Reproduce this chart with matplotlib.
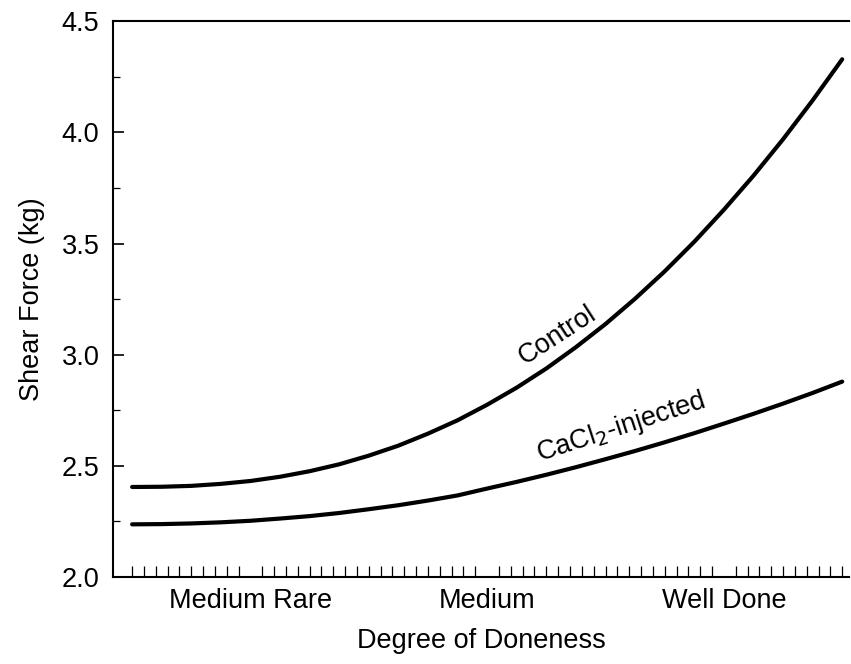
import numpy as np
import matplotlib.pyplot as plt
from matplotlib.ticker import MultipleLocator, FixedLocator

plt.rcParams['font.family'] = ['Liberation Sans', 'DejaVu Sans']

# degree of doneness (1 = medium rare, 2 = medium, 3 = well done)
doneness = [0.5, 0.625, 0.75, 0.875, 1.0, 1.125, 1.25, 1.375, 1.5, 1.625, 1.75, 1.875, 2.0,
            2.125, 2.25, 2.375, 2.5, 2.625, 2.75, 2.875, 3.0, 3.125, 3.25, 3.375, 3.5]
control = [2.405, 2.406, 2.410, 2.419, 2.432, 2.451, 2.476, 2.507, 2.546, 2.591, 2.645, 2.705, 2.775,
           2.852, 2.938, 3.034, 3.138, 3.252, 3.375, 3.508, 3.652, 3.805, 3.969, 4.144, 4.329]
cacl2 = [2.237, 2.238, 2.241, 2.246, 2.253, 2.263, 2.274, 2.288, 2.305, 2.323, 2.344, 2.367, 2.398,
         2.428, 2.460, 2.494, 2.530, 2.567, 2.606, 2.647, 2.690, 2.734, 2.780, 2.828, 2.879]
categories = ['Medium Rare', 'Medium', 'Well Done']
cat_pos = [1, 2, 3]

fig = plt.figure(figsize=(8.51, 6.64), dpi=100)
ax = fig.add_axes([0.133, 0.131, 0.865, 0.837])

ax.plot(doneness, control, color='black', lw=3.0, solid_capstyle='round')
ax.plot(doneness, cacl2, color='black', lw=3.0, solid_capstyle='round')

ax.set_xlim(0.42, 3.53)
ax.set_ylim(2.0, 4.5)

ax.set_xticks(cat_pos)
ax.set_xticklabels(categories, fontsize=19.5)
ax.xaxis.set_minor_locator(FixedLocator(np.arange(0.5, 3.501, 0.05)))
ax.yaxis.set_major_locator(MultipleLocator(0.5))
ax.yaxis.set_minor_locator(MultipleLocator(0.25))
ax.set_yticklabels([f'{v:.1f}' for v in ax.get_yticks()], fontsize=19.5)

ax.tick_params(axis='x', which='minor', direction='in', length=8, width=0.9)
ax.tick_params(axis='x', which='major', length=0, pad=8)
ax.tick_params(axis='y', which='major', direction='in', length=8, width=1.2, pad=10)
ax.tick_params(axis='y', which='minor', direction='in', length=5, width=0.9)

ax.spines['right'].set_visible(False)
for s in ['left', 'bottom', 'top']:
    ax.spines[s].set_linewidth(1.5)

ax.set_xlabel('Degree of Doneness', fontsize=19.5, labelpad=10)
ax.set_ylabel('Shear Force (kg)', fontsize=19.5, labelpad=12)

ax.text(2.296, 3.088, 'Control', fontsize=19.5, rotation=33, ha='center', va='center')
ax.text(2.567, 2.674, 'CaCl$_2$-injected', fontsize=19.5, rotation=18,
        ha='center', va='center')

fig.savefig('out.png', dpi=100)
